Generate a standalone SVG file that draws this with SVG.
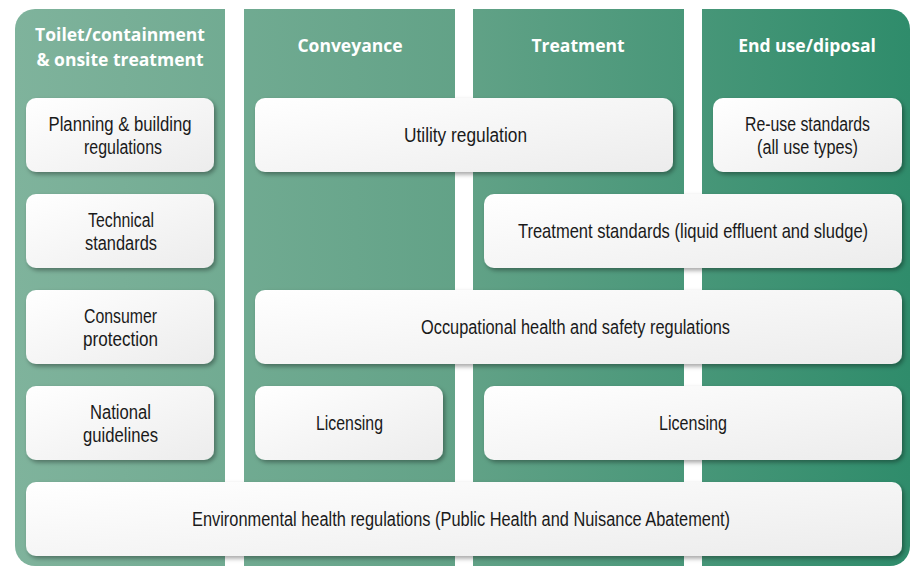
<svg xmlns="http://www.w3.org/2000/svg" width="910" height="566" viewBox="0 0 910 566">
<defs>
<linearGradient id="bg" x1="15" y1="0" x2="910" y2="0" gradientUnits="userSpaceOnUse">
<stop offset="0" stop-color="#7fb39c"/>
<stop offset="0.5" stop-color="#62a287"/>
<stop offset="1" stop-color="#2f8c6b"/>
</linearGradient>
<linearGradient id="box" x1="0" y1="0" x2="1" y2="1">
<stop offset="0" stop-color="#ffffff"/>
<stop offset="1" stop-color="#ececec"/>
</linearGradient>
<filter id="sh" x="-10%" y="-20%" width="120%" height="150%">
<feDropShadow dx="2" dy="2.5" stdDeviation="2" flood-color="#000" flood-opacity="0.35"/>
</filter>
</defs>
<style>
.b{fill:url(#box);filter:url(#sh)}
.t{font-family:"Liberation Sans",Arial,sans-serif;font-size:20px;fill:#1a1a1a;text-anchor:middle}
.h{font-family:"Open Sans","Liberation Sans",sans-serif;font-weight:bold;font-size:17.5px;fill:#ffffff;text-anchor:middle}
</style>
<rect width="910" height="566" fill="#ffffff"/>
<g id="columns">
<rect x="15" y="9" width="895" height="557" rx="20" fill="url(#bg)"/>
<rect x="225" y="0" width="19" height="566" fill="#ffffff"/>
<rect x="455" y="0" width="18" height="566" fill="#ffffff"/>
<rect x="684" y="0" width="18" height="566" fill="#ffffff"/>
<text class="h" x="120" y="41">Toilet/containment</text>
<text class="h" x="120" y="66">&amp; onsite treatment</text>
<text class="h" x="350" y="52">Conveyance</text>
<text class="h" x="578" y="52">Treatment</text>
<text class="h" x="807" y="52">End use/diposal</text>
</g>
<g id="connectors"/>
<g id="planning"><rect class="b" x="26" y="98" width="188" height="74" rx="10"/><text class="t" x="120" y="131" textLength="143" lengthAdjust="spacingAndGlyphs">Planning &amp; building</text><text class="t" x="123" y="154" textLength="78" lengthAdjust="spacingAndGlyphs">regulations</text></g>
<g id="technical"><rect class="b" x="26" y="194" width="188" height="74" rx="10"/><text class="t" x="121" y="227" textLength="66" lengthAdjust="spacingAndGlyphs">Technical</text><text class="t" x="121" y="250" textLength="72" lengthAdjust="spacingAndGlyphs">standards</text></g>
<g id="consumer"><rect class="b" x="26" y="290" width="188" height="74" rx="10"/><text class="t" x="120.5" y="323" textLength="73" lengthAdjust="spacingAndGlyphs">Consumer</text><text class="t" x="120.5" y="346" textLength="75" lengthAdjust="spacingAndGlyphs">protection</text></g>
<g id="national"><rect class="b" x="26" y="386" width="188" height="74" rx="10"/><text class="t" x="120.5" y="419" textLength="61" lengthAdjust="spacingAndGlyphs">National</text><text class="t" x="120.5" y="442" textLength="75" lengthAdjust="spacingAndGlyphs">guidelines</text></g>
<g id="utility"><rect class="b" x="255" y="98" width="418" height="74" rx="10"/><text class="t" x="465.5" y="142" textLength="123" lengthAdjust="spacingAndGlyphs">Utility regulation</text></g>
<g id="reuse"><rect class="b" x="713" y="98" width="189" height="74" rx="10"/><text class="t" x="807.5" y="131" textLength="125" lengthAdjust="spacingAndGlyphs">Re-use standards</text><text class="t" x="807.5" y="154" textLength="101" lengthAdjust="spacingAndGlyphs">(all use types)</text></g>
<g id="treatment-standards"><rect class="b" x="484" y="194" width="418" height="74" rx="10"/><text class="t" transform="translate(693 238) scale(0.827 1)" x="0" y="0">Treatment standards (liquid effluent and sludge)</text></g>
<g id="ohs"><rect class="b" x="255" y="290" width="647" height="74" rx="10"/><text class="t" x="575.5" y="334" textLength="309" lengthAdjust="spacingAndGlyphs">Occupational health and safety regulations</text></g>
<g id="licensing-conveyance"><rect class="b" x="255" y="386" width="188" height="74" rx="10"/><text class="t" x="349.5" y="430" textLength="67" lengthAdjust="spacingAndGlyphs">Licensing</text></g>
<g id="licensing-treatment"><rect class="b" x="484" y="386" width="418" height="74" rx="10"/><text class="t" x="693" y="430" textLength="68" lengthAdjust="spacingAndGlyphs">Licensing</text></g>
<g id="environmental"><rect class="b" x="26" y="482" width="876" height="74" rx="10"/><text class="t" x="461" y="526" textLength="538" lengthAdjust="spacingAndGlyphs">Environmental health regulations (Public Health and Nuisance Abatement)</text></g>
</svg>
